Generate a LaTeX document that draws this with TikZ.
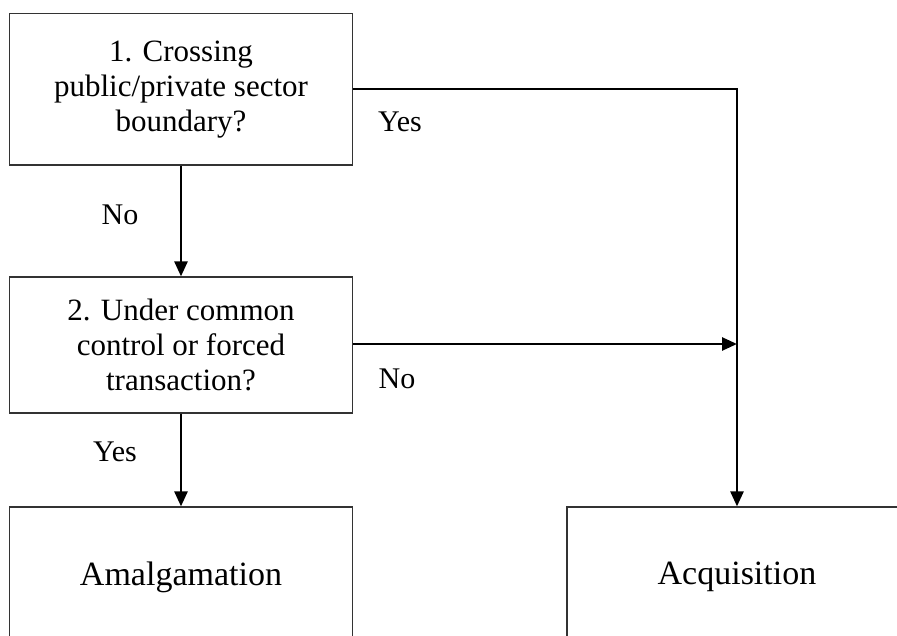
\documentclass[tikz,border=0pt]{standalone}
\usepackage{fontspec}
\setmainfont{Liberation Serif}
\usetikzlibrary{arrows.meta}
\begin{document}
\begin{tikzpicture}[x=1pt,y=-1pt,
  qbox/.style={draw=black!80,line width=1.2pt,inner sep=0pt,align=center,
    font=\fontsize{31}{35}\selectfont,minimum width=343pt},
  ebox/.style={draw=black!80,line width=1.2pt,inner sep=0pt,align=center,
    font=\fontsize{34}{40}\selectfont,minimum width=343pt,minimum height=140pt},
  conn/.style={line width=2.6pt,black},
  arr/.style={conn,-{Triangle[length=15pt,width=13pt]}},
  lbl/.style={font=\fontsize{30}{36}\selectfont,inner sep=0pt}]
\useasboundingbox (0,0) rectangle (897,636);
\clip (0,0) rectangle (897,636);
\node[qbox,minimum height=151.5pt] (q1) at (181,89.25) {1. Crossing\\public/private sector\\boundary?};
\node[qbox,minimum height=136pt] (q2) at (181,345) {2. Under common\\control or forced\\transaction?};
\node[ebox] (am) at (181,577) {Amalgamation};
\node[ebox,minimum width=340pt] (ac) at (737,577) {Acquisition};
\coordinate (c1) at (737,89);
\coordinate (j) at (737,344);
\draw[conn] (q1.east |- c1) -- (c1) -- (j);
\draw[arr] (j) -- (ac.north);
\draw[arr] (q2.east |- j) -- (j);
\draw[arr] (q1.south) -- (q2.north);
\draw[arr] (q2.south) -- (am.north);
\node[lbl] (y1) at (400,122) {Yes};
\node[lbl] (n1) at (120,215) {No};
\node[lbl] (n2) at (397,379) {No};
\node[lbl] (y2) at (115,452) {Yes};
\end{tikzpicture}
\end{document}
